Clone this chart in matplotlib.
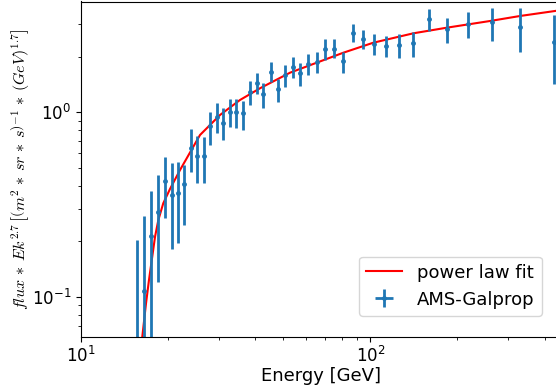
import matplotlib
matplotlib.use("Agg")
import matplotlib.pyplot as plt
import numpy as np

plt.rcParams['font.size'] = 12
plt.rcParams['mathtext.fontset'] = 'cm'

# AMS-Galprop data points (energy in GeV, value, lower/upper error)
energy = [15.61, 16.50, 17.48, 18.49, 19.50, 20.62, 21.73, 22.79, 24.04, 25.21,
          26.59, 27.96, 29.44, 31.00, 32.78, 34.45, 36.34, 38.33, 40.52, 42.77,
          45.40, 48.01, 50.83, 53.95, 57.32, 61.08, 65.30, 69.76, 74.74, 80.46,
          86.95, 94.36, 103.2, 113.3, 125.4, 140.4, 159.5, 184.1, 217.5, 263.2,
          329.6, 431.9]
flux = [0.040, 0.1084, 0.2140, 0.2892, 0.4220, 0.3566, 0.3670, 0.4116, 0.6383, 0.5798,
        0.5835, 0.8430, 0.9466, 0.8752, 1.0075, 1.0075, 0.9888, 1.291, 1.446, 1.253,
        1.653, 1.332, 1.592, 1.764, 1.632, 1.820, 1.872, 2.210, 2.210, 1.888,
        2.698, 2.503, 2.334, 2.294, 2.314, 2.363, 3.200, 2.825, 3.018, 3.072,
        2.896, 2.402]
err_top = [0.2035, 0.2745, 0.3762, 0.4575, 0.5705, 0.5294, 0.5361, 0.5184, 0.8090, 0.7443,
           0.7350, 1.0075, 1.1186, 1.0511, 1.180, 1.180, 1.151, 1.477, 1.638, 1.435,
           1.865, 1.520, 1.804, 1.993, 1.856, 2.068, 2.113, 2.485, 2.485, 2.129,
           3.007, 2.790, 2.644, 2.589, 2.644, 2.711, 3.612, 3.229, 3.505, 3.657,
           3.657, 3.364]
err_bottom = [0.010, 0.048, 0.049, 0.1210, 0.2687, 0.1808, 0.1960, 0.2454, 0.4733, 0.4157,
              0.4157, 0.6652, 0.7697, 0.7079, 0.8295, 0.8192, 0.8022, 1.095, 1.259, 1.051,
              1.464, 1.137, 1.371, 1.533, 1.393, 1.592, 1.626, 1.920, 1.961, 1.626,
              2.393, 2.193, 2.035, 1.985, 1.968, 1.985, 2.755, 2.363, 2.516, 2.442,
              2.129, 1.423]

# power law fit curve
fit_energy = [16.10, 16.32, 16.81, 17.21, 18.06, 18.54, 19.28, 20.34, 22.03, 25.82,
              30.27, 35.49, 41.6, 52.8, 80.7, 102.4, 140.8, 183.6, 259.0, 328.8, 434.3, 480.0]
fit_flux = [0.030, 0.0610, 0.0924, 0.1236, 0.2121, 0.2611, 0.3217, 0.3844, 0.4871, 0.7536,
            0.9669, 1.166, 1.349, 1.638, 2.102, 2.381, 2.677, 2.871, 3.121, 3.322, 3.536, 3.62]

fig = plt.figure(figsize=(5.56, 3.90), dpi=100)
W, H = 556.0, 390.0
left_px, bottom_px, top_px = 80.7, 337.3, 1.5
xmin, xmax = 10.0, 460.0
ymin, ymax = 0.0605, 3.98
width_px = 289.6 * np.log10(xmax / xmin)
ax = fig.add_axes([left_px / W, (H - bottom_px) / H, width_px / W, (bottom_px - top_px) / H])

fl = np.array(flux)
yerr = np.array([fl - np.array(err_bottom), np.array(err_top) - fl])
ax.plot(fit_energy, fit_flux, color='red', lw=1.5, label='power law fit')
ax.errorbar(energy, flux, yerr=yerr, xerr=np.zeros(len(energy)), fmt='.', color='C0',
            markersize=5, elinewidth=2, label='AMS-Galprop')

ax.set_xscale('log')
ax.set_yscale('log')
ax.set_xlim(xmin, xmax)
ax.set_ylim(ymin, ymax)
ax.tick_params(axis='x', which='major', pad=2.5)
ax.set_xlabel('Energy [GeV]', fontsize=13, labelpad=1)
ax.set_ylabel(r'$flux\,*\,Ek^{2.7}\,\left[\left(m^2\,*\,sr\,*\,s\right)^{-1}\,*\,(GeV)^{1.7}\right]$',
              fontsize=11.5, labelpad=-0.5)

leg_right = (541.7 - left_px) / width_px
leg_bottom = (bottom_px - 316.0) / (bottom_px - top_px)
ax.legend(loc='lower right', bbox_to_anchor=(leg_right, leg_bottom), borderaxespad=0,
          fontsize=13)

fig.savefig('out.png', dpi=100)
